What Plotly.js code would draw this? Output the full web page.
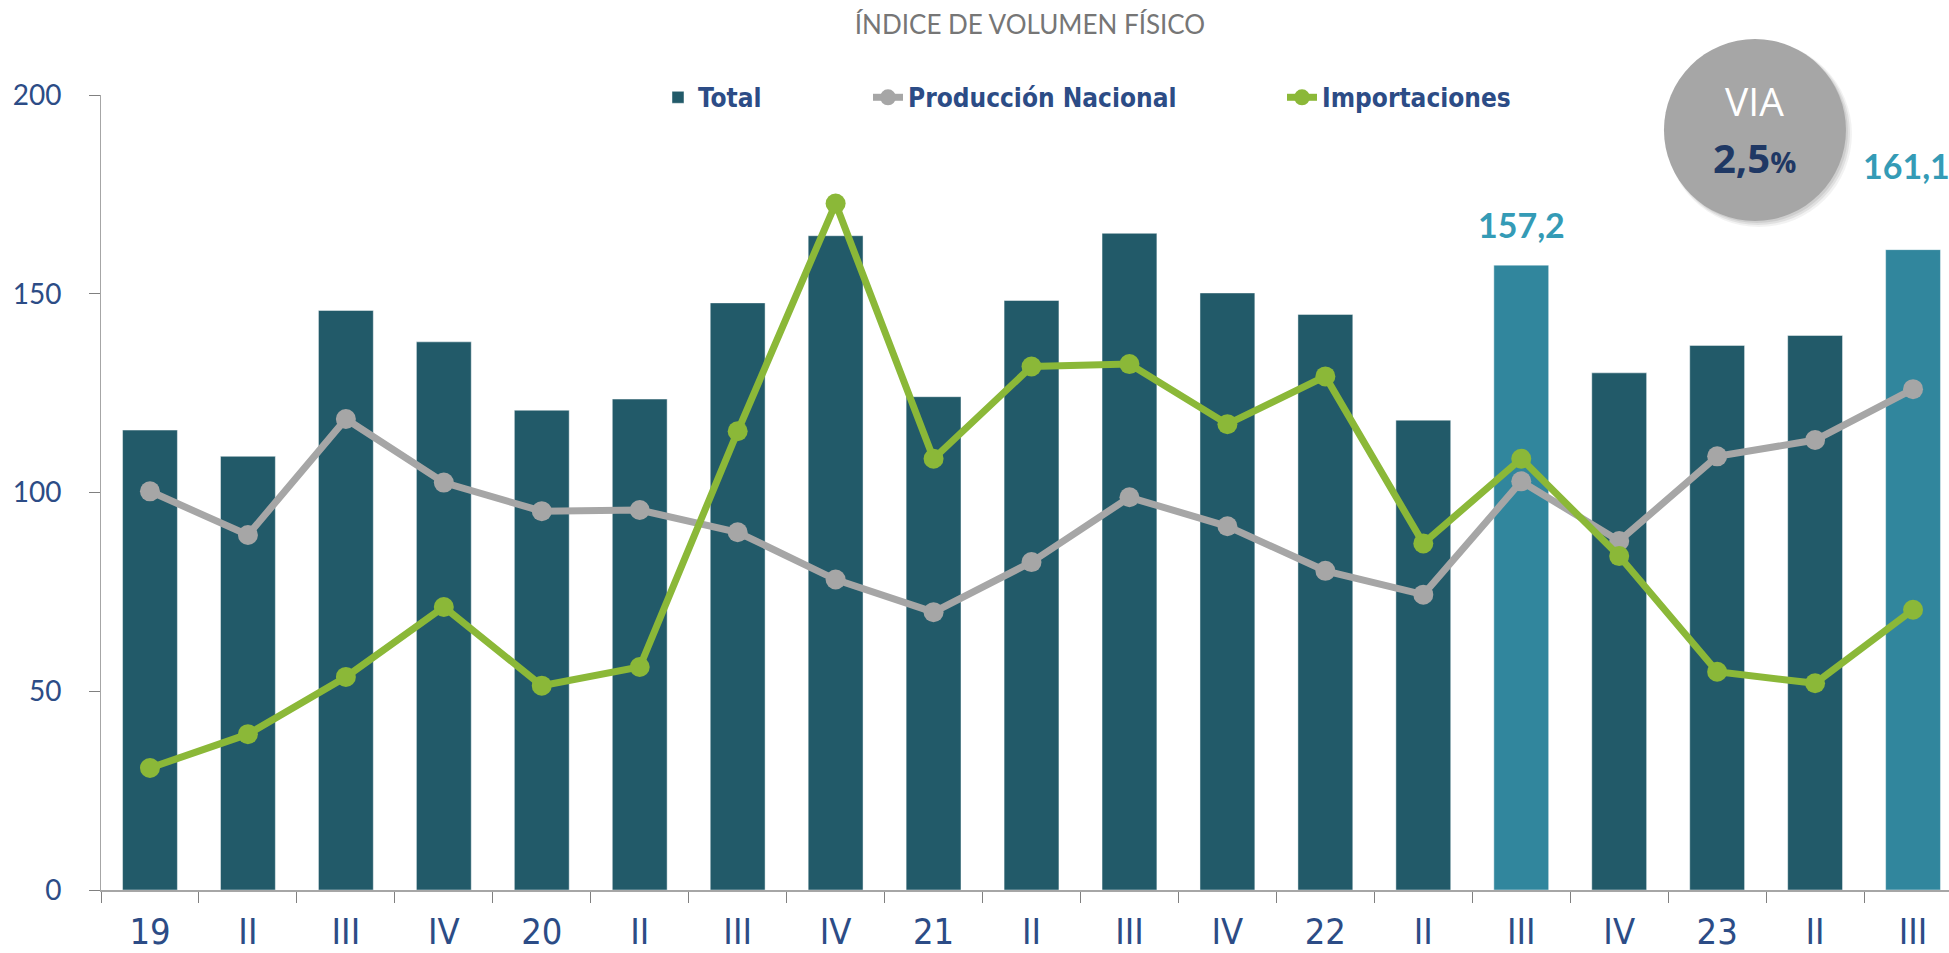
<!DOCTYPE html>
<html>
<head>
<meta charset="utf-8">
<script src="https://cdn.plot.ly/plotly-3.0.1.min.js"></script>
<style>
  html, body { margin: 0; padding: 0; background: #ffffff; }
  #chart { width: 1949px; height: 953px; }
</style>
</head>
<body>
<div id="chart"></div>
<script>
// ---- Data ----
const periods = ["2019-I","2019-II","2019-III","2019-IV",
                 "2020-I","2020-II","2020-III","2020-IV",
                 "2021-I","2021-II","2021-III","2021-IV",
                 "2022-I","2022-II","2022-III","2022-IV",
                 "2023-I","2023-II","2023-III"];
const tickLabels = ["19","II","III","IV","20","II","III","IV","21","II","III","IV","22","II","III","IV","23","II","III"];
const total = [115.7,109.1,145.8,137.9,120.7,123.5,147.7,164.6,124.1,148.3,165.2,150.2,144.8,118.2,157.2,130.1,137.0,139.5,161.1];
const produccionNacional = [100.3,89.3,118.5,102.5,95.3,95.6,90.0,78.1,69.9,82.5,98.8,91.5,80.3,74.3,102.8,87.8,109.1,113.2,126.0];
const importaciones = [30.7,39.2,53.6,71.2,51.4,56.1,115.4,172.7,108.5,131.7,132.3,117.2,129.2,87.2,108.5,84.0,54.9,52.0,70.5];
const highlighted = ["2022-III","2023-III"];
const seriesNames = ["Total","Producción Nacional","Importaciones"];
const chartTitle = "ÍNDICE DE VOLUMEN FÍSICO";
const viaLabel = "VIA";
const viaValue = "2,5";

// ---- Styles ----
const C_BAR = "#225A69";
const C_BAR_HI = "#31869D";
const C_GRAY = "#A6A6A6";
const C_GREEN = "#8BB838";
const C_BLUE = "#2C4C86";
const C_LABEL = "#349BB6";
const NARROW = "'Liberation Sans Narrow', 'DejaVu Sans Condensed', 'Roboto', sans-serif";

const barColors = periods.map(p => highlighted.includes(p) ? C_BAR_HI : C_BAR);
const fmt = v => v.toFixed(1).replace(".", ",");

const traces = [
  {
    type: "bar", name: seriesNames[0], x: periods, y: total,
    width: 0.56,
    marker: { color: barColors, line: { color: "rgba(255,255,255,0.45)", width: 1 } },
    legendwidth: 165, hoverinfo: "x+y"
  },
  {
    type: "scatter", mode: "lines+markers", name: seriesNames[1], x: periods, y: produccionNacional,
    line: { color: C_GRAY, width: 7 },
    marker: { color: C_GRAY, size: 20 },
    legendwidth: 369, cliponaxis: false
  },
  {
    type: "scatter", mode: "lines+markers", name: seriesNames[2], x: periods, y: importaciones,
    line: { color: C_GREEN, width: 7 },
    marker: { color: C_GREEN, size: 20 },
    legendwidth: 200, cliponaxis: false
  }
];

// value labels on highlighted bars
const labelShift = { "2022-III": { y: 18, x: 0 }, "2023-III": { y: 62, x: -7 } };
const annotations = highlighted.map(p => {
  const i = periods.indexOf(p);
  return {
    x: p, y: total[i], xref: "x", yref: "y",
    text: "<b>" + fmt(total[i]) + "</b>", showarrow: false,
    yanchor: "bottom", yshift: labelShift[p].y, xshift: labelShift[p].x,
    font: { family: "Lato, sans-serif", size: 34, color: C_LABEL }
  };
});

// VIA badge
const viaX = 0.895, viaY = 0.956;
annotations.push({
  xref: "paper", yref: "paper", x: viaX, y: 0.9925, text: viaLabel, showarrow: false,
  xanchor: "center", yanchor: "middle",
  font: { family: "'Open Sans', sans-serif", size: 39, color: "#FFFFFF" }
});
annotations.push({
  xref: "paper", yref: "paper", x: viaX, y: 0.922,
  text: "<b>" + viaValue + "</b><b><span style='font-size:29px'>%</span></b>", showarrow: false,
  xanchor: "center", yanchor: "middle",
  font: { family: "'Open Sans', sans-serif", size: 40, color: "#1F3864" }
});

const circ = (dx, dy, r, color) => ({
  type: "circle", xref: "paper", yref: "paper", xsizemode: "pixel", ysizemode: "pixel",
  xanchor: viaX, yanchor: viaY, x0: -r + dx, x1: r + dx, y0: -r - dy, y1: r - dy,
  fillcolor: color, line: { width: 0 }, layer: "above"
});
const shapes = [
  circ(4, 4, 93, "rgba(0,0,0,0.05)"),
  circ(3, 3, 92, "rgba(0,0,0,0.07)"),
  circ(2, 2, 91, "rgba(0,0,0,0.08)"),
  circ(0, 0, 91, "#A6A6A6")
];

const layout = {
  width: 1949, height: 953,
  margin: { l: 101, r: 0, t: 95, b: 63, pad: 0 },
  paper_bgcolor: "#FFFFFF", plot_bgcolor: "#FFFFFF",
  showlegend: true,
  title: {
    text: chartTitle, xref: "paper", x: 0.5027, xanchor: "center",
    yref: "container", y: 0.974, yanchor: "middle",
    font: { family: "Lato, sans-serif", size: 26, color: "#767676" }
  },
  legend: {
    orientation: "h", x: 0.3014, xanchor: "left", y: 0.997, yanchor: "middle",
    bgcolor: "rgba(0,0,0,0)", traceorder: "normal",
    font: { family: NARROW, size: 26, color: C_BLUE, weight: "bold" }
  },
  xaxis: {
    type: "category", range: [-0.5, 18.367],
    tickmode: "array", tickvals: periods, ticktext: tickLabels,
    tickson: "boundaries", ticks: "outside", ticklen: 11, tickwidth: 1, tickcolor: "#808080",
    showline: true, linecolor: C_GRAY, linewidth: 2,
    showgrid: false, zeroline: false, fixedrange: true,
    ticklabelstandoff: 9,
    tickfont: { family: NARROW, size: 36, color: C_BLUE }
  },
  yaxis: {
    range: [0, 200], tickvals: [0, 50, 100, 150, 200],
    ticks: "outside", ticklen: 11, tickwidth: 1, tickcolor: "#808080",
    showline: true, linecolor: C_GRAY, linewidth: 1,
    showgrid: false, zeroline: false, fixedrange: true,
    ticklabelstandoff: 22,
    tickfont: { family: "Lato, sans-serif", size: 28, color: C_BLUE }
  },
  annotations: annotations,
  shapes: shapes,
  bargap: 0.44
};

Plotly.newPlot("chart", traces, layout, { displayModeBar: false, staticPlot: true });
</script>
</body>
</html>
